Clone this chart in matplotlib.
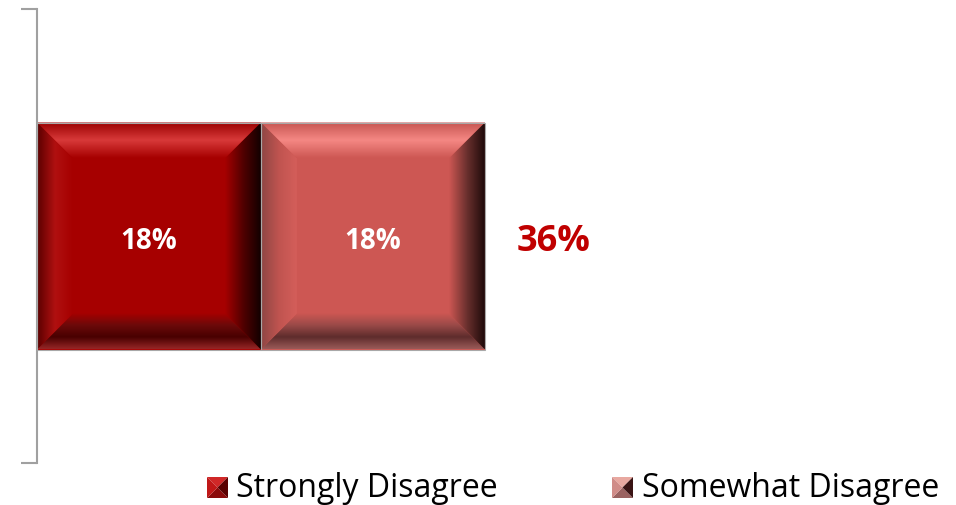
import numpy as np
import matplotlib.pyplot as plt
from matplotlib.patches import Polygon, Rectangle
from matplotlib.colors import LinearSegmentedColormap

categories = ["Strongly Disagree", "Somewhat Disagree"]
values = [0.18, 0.18]
total = sum(values)

plt.rcParams['font.family'] = ['Open Sans', 'DejaVu Sans']

W, H = 956, 506
fig = plt.figure(figsize=(W / 100, H / 100), dpi=100)

# plot area in pixels: x 37..908, y 10..464 (from top)
ax = fig.add_axes([37 / W, (H - 464) / H, 871 / W, 454 / H])
XMAX = 0.7
px_x = XMAX / 871
px_y = 1.0 / 454

# shading for each segment: face, top (outer -> inner), bottom, left, right
styles = [
    dict(face="#a60000",
         top=["#9a0000", "#d83a3a", "#a60000"],
         bottom=["#a60000", "#6c0a0a", "#480000", "#962626"],
         left=["#5a0000", "#b01010", "#a60000"],
         right=["#a60000", "#520000", "#120000"]),
    dict(face="#cd5753",
         top=["#c65450", "#f58884", "#cd5753"],
         bottom=["#cd5753", "#9a4a48", "#5e2c2c", "#9a5a58"],
         left=["#8e4644", "#c05450", "#d45e5a"],
         right=["#cd5753", "#6a302e", "#1e0a0a"]),
]


def grad_poly(ax, verts, colors, horizontal, reverse=False):
    cmap = LinearSegmentedColormap.from_list("g", colors)
    xs = [v[0] for v in verts]
    ys = [v[1] for v in verts]
    g = np.linspace(0, 1, 128)
    if reverse:
        g = g[::-1]
    img = g[np.newaxis, :] if horizontal else g[:, np.newaxis]
    poly = Polygon(verts, closed=True, facecolor="none", edgecolor="none")
    ax.add_patch(poly)
    im = ax.imshow(img, cmap=cmap, aspect="auto", origin="lower",
                   extent=[min(xs), max(xs), min(ys), max(ys)],
                   interpolation="bicubic", zorder=2)
    im.set_clip_path(poly)


def bevel_bar(ax, x0, x1, y0, y1, st):
    bx = 36 * px_x
    by = 36 * px_y
    ax.add_patch(Rectangle((x0, y0), x1 - x0, y1 - y0, facecolor=st["face"],
                           edgecolor="none", zorder=1))
    # top bevel: outer at top
    grad_poly(ax, [(x0, y1), (x1, y1), (x1 - bx, y1 - by), (x0 + bx, y1 - by)],
              st["top"], horizontal=False, reverse=True)
    # bottom bevel: inner at top, outer at bottom
    grad_poly(ax, [(x0, y0), (x1, y0), (x1 - bx, y0 + by), (x0 + bx, y0 + by)],
              st["bottom"], horizontal=False, reverse=True)
    # left bevel
    grad_poly(ax, [(x0, y0), (x0 + bx, y0 + by), (x0 + bx, y1 - by), (x0, y1)],
              st["left"], horizontal=True)
    # right bevel
    grad_poly(ax, [(x1, y0), (x1 - bx, y0 + by), (x1 - bx, y1 - by), (x1, y1)],
              st["right"], horizontal=True)
    ax.add_patch(Rectangle((x0, y0), x1 - x0, y1 - y0, facecolor="none",
                           edgecolor="#a8a8a8", lw=0.8, zorder=3))


bar_h = 0.5
left = 0
for v, st in zip(values, styles):
    bevel_bar(ax, left, left + v, -bar_h / 2, bar_h / 2, st)
    ax.text(left + v / 2, -0.01, f"{v:.0%}", ha="center", va="center",
            color="white", fontsize=20, fontweight="bold", zorder=4)
    left += v

ax.text(total + 32 * px_x, -0.01, f"{total:.0%}", ha="left", va="center",
        color="#c00000", fontsize=26, fontweight="bold")

ax.set_xlim(0, XMAX)
ax.set_ylim(-0.5, 0.5)
for s in ["top", "right", "bottom"]:
    ax.spines[s].set_visible(False)
ax.spines["left"].set_color("#a0a0a0")
ax.spines["left"].set_linewidth(1.5)
ax.set_xticks([])
ax.set_yticks([-0.5, 0.5])
ax.set_yticklabels([])
ax.tick_params(axis="y", length=11.5, width=1.5, color="#a0a0a0", direction="out")

# legend: small bevelled squares with labels
lax = fig.add_axes([0, 0, 1, 1])
lax.set_xlim(0, W)
lax.set_ylim(H, 0)
lax.axis("off")
leg_marks = [
    dict(x=207, tx=236, top="#d02828", left="#c01818", right="#5a0000", bottom="#8a0a0a"),
    dict(x=612, tx=642, top="#e8a8a0", left="#d08c88", right="#3a1414", bottom="#9a6260"),
]
y0m, y1m = 478, 499
for m, name in zip(leg_marks, categories):
    x0, x1 = m["x"], m["x"] + 21
    cx, cy = (x0 + x1) / 2, (y0m + y1m) / 2
    lax.add_patch(Polygon([(x0, y0m), (x1, y0m), (cx, cy)], facecolor=m["top"], edgecolor="none"))
    lax.add_patch(Polygon([(x0, y1m), (x1, y1m), (cx, cy)], facecolor=m["bottom"], edgecolor="none"))
    lax.add_patch(Polygon([(x0, y0m), (x0, y1m), (cx, cy)], facecolor=m["left"], edgecolor="none"))
    lax.add_patch(Polygon([(x1, y0m), (x1, y1m), (cx, cy)], facecolor=m["right"], edgecolor="none"))
    lax.text(m["tx"], cy, name, ha="left", va="center", fontsize=23, color="black")

fig.savefig("out.png", dpi=100)
